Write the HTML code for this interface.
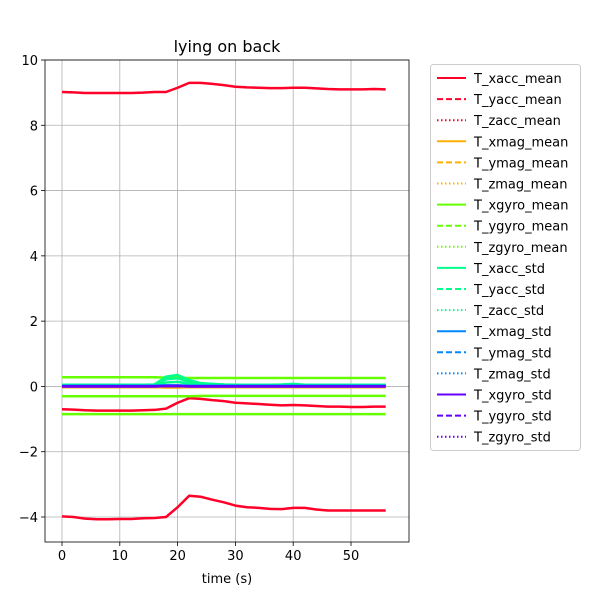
<!DOCTYPE html>
<html><head><meta charset="utf-8"><style>
body{margin:0;background:#fff;font-family:"Liberation Sans","DejaVu Sans",sans-serif}
svg text{font-family:"DejaVu Sans","Liberation Sans",sans-serif}
</style></head><body>
<svg id="c" width="600" height="600" xmlns="http://www.w3.org/2000/svg">
<rect width="600" height="600" fill="#fff"/>
<text x="227" y="52" font-size="16" text-anchor="middle">lying on back</text>
<g id="grid"></g><g id="series"></g><g id="axes"></g><g id="legend"></g>
<text x="227" y="583" font-size="13" text-anchor="middle">time (s)</text>
</svg>
<script>
const times=[0,2,4,6,8,10,12,14,16,18,20,22,24,26,28,30,32,34,36,38,40,42,44,46,48,50,52,54,56];
const xaccMean=[9.02,9.01,8.99,8.99,8.99,8.99,8.99,9.0,9.02,9.02,9.15,9.3,9.3,9.27,9.23,9.18,9.16,9.15,9.14,9.14,9.15,9.15,9.13,9.11,9.1,9.1,9.1,9.11,9.1];
const yaccMean=[-0.7,-0.71,-0.73,-0.74,-0.74,-0.74,-0.74,-0.73,-0.72,-0.68,-0.5,-0.36,-0.38,-0.42,-0.45,-0.5,-0.52,-0.54,-0.56,-0.58,-0.57,-0.58,-0.6,-0.62,-0.62,-0.63,-0.63,-0.62,-0.62];
const zaccMean=[-3.98,-4.0,-4.05,-4.07,-4.07,-4.06,-4.06,-4.04,-4.03,-4.0,-3.7,-3.35,-3.38,-3.47,-3.55,-3.65,-3.7,-3.72,-3.75,-3.76,-3.72,-3.72,-3.77,-3.8,-3.8,-3.8,-3.8,-3.8,-3.8];
const magMean=[-0.02,-0.02,-0.02,-0.02,-0.02,-0.02,-0.02,-0.02,-0.02,-0.03,-0.03,-0.02,-0.02,-0.02,-0.02,-0.02,-0.02,-0.02,-0.02,-0.02,-0.02,-0.02,-0.02,-0.02,-0.02,-0.02,-0.02,-0.02,-0.02];
const xgyroMean=[0.28,0.28,0.28,0.28,0.28,0.28,0.28,0.28,0.28,0.27,0.27,0.26,0.26,0.26,0.26,0.26,0.26,0.26,0.26,0.26,0.26,0.26,0.26,0.26,0.26,0.26,0.26,0.26,0.26];
const ygyroMean=[-0.3,-0.3,-0.3,-0.3,-0.3,-0.3,-0.3,-0.3,-0.3,-0.3,-0.3,-0.3,-0.29,-0.29,-0.29,-0.29,-0.29,-0.29,-0.29,-0.29,-0.29,-0.29,-0.29,-0.29,-0.29,-0.29,-0.29,-0.29,-0.29];
const zgyroMean=[-0.85,-0.85,-0.85,-0.85,-0.85,-0.85,-0.85,-0.85,-0.85,-0.85,-0.85,-0.85,-0.85,-0.85,-0.85,-0.85,-0.85,-0.85,-0.85,-0.85,-0.85,-0.85,-0.85,-0.85,-0.85,-0.85,-0.85,-0.85,-0.85];
const xaccStd=[0.05,0.05,0.05,0.05,0.05,0.05,0.05,0.05,0.06,0.3,0.35,0.2,0.1,0.08,0.06,0.05,0.05,0.05,0.05,0.06,0.08,0.05,0.05,0.05,0.05,0.05,0.05,0.05,0.05];
const yaccStd=[0.04,0.04,0.04,0.04,0.04,0.04,0.04,0.04,0.05,0.22,0.25,0.14,0.08,0.06,0.05,0.04,0.04,0.04,0.04,0.05,0.06,0.04,0.04,0.04,0.04,0.04,0.04,0.04,0.04];
const zaccStd=[0.03,0.03,0.03,0.03,0.03,0.03,0.03,0.03,0.04,0.12,0.14,0.08,0.05,0.04,0.04,0.03,0.03,0.03,0.03,0.04,0.05,0.03,0.03,0.03,0.03,0.03,0.03,0.03,0.03];
const magStd=[0.02,0.02,0.02,0.02,0.02,0.02,0.02,0.02,0.02,0.03,0.03,0.02,0.02,0.02,0.02,0.02,0.02,0.02,0.02,0.02,0.02,0.02,0.02,0.02,0.02,0.02,0.02,0.02,0.02];
const gyroStd=[0.0,0.0,0.0,0.0,0.0,0.0,0.0,0.0,0.0,0.01,0.01,0.0,0.0,0.0,0.0,0.0,0.0,0.0,0.0,0.0,0.0,0.0,0.0,0.0,0.0,0.0,0.0,0.0,0.0];
const seriesNames=["T_xacc_mean","T_yacc_mean","T_zacc_mean","T_xmag_mean","T_ymag_mean","T_zmag_mean","T_xgyro_mean","T_ygyro_mean","T_zgyro_mean","T_xacc_std","T_yacc_std","T_zacc_std","T_xmag_std","T_ymag_std","T_zmag_std","T_xgyro_std","T_ygyro_std","T_zgyro_std"];
const seriesData=[xaccMean,yaccMean,zaccMean,magMean,magMean,magMean,xgyroMean,ygyroMean,zgyroMean,xaccStd,yaccStd,zaccStd,magStd,magStd,magStd,gyroStd,gyroStd,gyroStd];
const xTicks=[0,10,20,30,40,50];
const yTicks=[10,8,6,4,2,0,-2,-4];
const colors=["#ff0029","#ffb000","#66ff00","#00ff8c","#0088ff","#6600ff"];
const dashes=["","6,3","1.5,2.5"];
const NS="http://www.w3.org/2000/svg";
const L=45,R=409,T=60,B=542;
const xs=v=>62+(v-0)*(351-62)/50;
const ys=v=>60+(10-v)*(517-60)/14;
function mk(tag,attrs,parent){const e=document.createElementNS(NS,tag);for(const k in attrs)e.setAttribute(k,attrs[k]);parent.appendChild(e);return e;}
const grid=document.getElementById('grid'),axes=document.getElementById('axes'),sg=document.getElementById('series'),lg=document.getElementById('legend');
xTicks.forEach(t=>{
 const g=mk('line',{x1:xs(t),x2:xs(t),y1:T,y2:B,stroke:'#b0b0b0','stroke-width':0.8},grid);
 
 
 mk('line',{x1:xs(t),x2:xs(t),y1:B,y2:B+4,stroke:'#000','stroke-width':0.8},axes);
 const tx=mk('text',{x:xs(t),y:B+18,'font-size':13,'text-anchor':'middle'},axes);tx.textContent=t;
 
 
});
yTicks.forEach(t=>{
 const g=mk('line',{x1:L,x2:R,y1:ys(t),y2:ys(t),stroke:'#b0b0b0','stroke-width':0.8},grid);
 
 
 mk('line',{x1:L-4,x2:L,y1:ys(t),y2:ys(t),stroke:'#000','stroke-width':0.8},axes);
 const tx=mk('text',{x:L-7,y:ys(t)+5,'font-size':13,'text-anchor':'end'},axes);tx.textContent=(t<0?'\u2212'+(-t):t);
 
 
});
const fr=mk('rect',{x:L,y:T,width:R-L,height:B-T,fill:'none',stroke:'#000','stroke-width':0.8},axes);


seriesData.forEach((d,i)=>{
 const col=colors[Math.floor(i/3)];
 const p=mk('polyline',{points:d.map((v,j)=>xs(times[j])+','+ys(v)).join(' '),fill:'none',stroke:col,'stroke-width':2.5,'stroke-linejoin':'round'},sg);
 
 
});
const lb=mk('rect',{x:430.5,y:64.5,width:150,height:386,rx:3,fill:'#fff',stroke:'#ccc','stroke-width':1},lg);


seriesNames.forEach((n,i)=>{
 const y=78+i*21.1,col=colors[Math.floor(i/3)];
 const ln=mk('line',{x1:437,x2:466,y1:y,y2:y,stroke:col,'stroke-width':2,'stroke-dasharray':dashes[i%3]},lg);
 
 
 const t=mk('text',{x:474,y:y+5,'font-size':13},lg);t.textContent=n;
 
 
});
</script>
</body></html>
